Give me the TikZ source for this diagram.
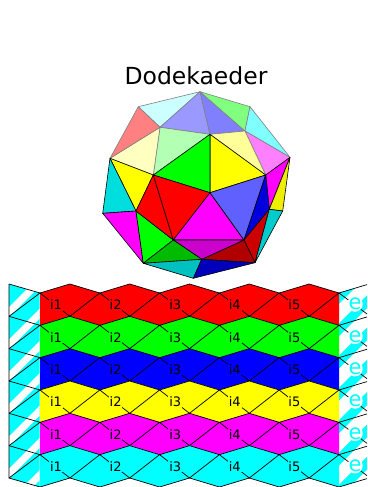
\documentclass[tikz,border=0pt]{standalone}
\usepackage{fontspec}
\setmainfont{DejaVu Sans}
\usepackage{tikz}
\definecolor{paleCyan}{HTML}{CCFFFF}
\definecolor{paleViolet}{HTML}{9999FF}
\definecolor{paleBlue}{HTML}{8080FF}
\definecolor{paleGreen}{HTML}{80FF80}
\definecolor{softCyan}{HTML}{80FFFF}
\definecolor{softMagenta}{HTML}{FF80FF}
\definecolor{paleYellow}{HTML}{FFFF99}
\definecolor{softGreen}{HTML}{B3FFB3}
\definecolor{softYellow}{HTML}{FFFFBF}
\definecolor{softRed}{HTML}{FF8080}
\definecolor{midCyan}{HTML}{00DDDD}
\definecolor{midBlue}{HTML}{6060FF}
\definecolor{midYellow}{HTML}{EEEE00}
\definecolor{deepBlue}{HTML}{0000DD}
\definecolor{deepRed}{HTML}{CC0000}
\definecolor{deepCyan}{HTML}{00CCCC}
\definecolor{darkRed}{HTML}{B00000}
\definecolor{deepMagenta}{HTML}{CC00CC}
\definecolor{deepGreen}{HTML}{00BB00}
\definecolor{darkCyan}{HTML}{00C0C0}
\definecolor{darkBlue}{HTML}{0000BB}
\definecolor{pureCyan}{HTML}{00FFFF}
\definecolor{pureMagenta}{HTML}{FF00FF}
\definecolor{pureYellow}{HTML}{FFFF00}
\definecolor{pureGreen}{HTML}{00FF00}
\definecolor{pureRed}{HTML}{FF0000}
\definecolor{pureBlue}{HTML}{0000FF}
\begin{document}
\begin{tikzpicture}[
    x=1pt, y=-1pt,
    face/.style={draw=black, line width=0.6pt, line join=round},
    lightface/.style={draw=gray, line width=0.6pt, line join=round},
    net/.style={draw=black, line width=0.7pt},
    lab/.style={font=\fontsize{13}{14}\selectfont, inner sep=0.8pt},
    elab/.style={font=\fontsize{21}{22}\selectfont, circle, inner sep=-0.8pt, text=pureCyan, fill=white},
  ]
    \useasboundingbox (0,0) rectangle (367,487);
    \node[font=\fontsize{23.5}{26}\selectfont, inner sep=0pt] (title) at (196,76) {Dodekaeder};
    % corners of the solid
    \foreach \n/\x/\y in {A/200/91.7, B/138.3/106.7, C/250/106.7, D/290/157.3, E/110/158.3,
      F/102.7/213.3, G/143.3/263.3, H/193.3/278.3, I/255/262.7, U/282.7/211, J/160/127.3,
      K/210/134.3, L/245/131, M/153.3/175, N/265.7/175, O/210/192.7, P/136/211, Q/173.3/240,
      R/244/240, S/269.3/209.3, T/201.7/259.3}{
      \coordinate (\n) at (\x,\y);}
    \foreach \a/\b/\c/\col in {B/A/J/paleCyan, J/A/K/paleViolet, A/L/K/paleBlue, A/C/L/paleGreen,
      C/D/L/softCyan, L/D/N/softMagenta, K/L/N/paleYellow, J/K/M/softGreen, E/J/M/softYellow,
      B/J/E/softRed}{
      \path[lightface, fill=\col] (\a) -- (\b) -- (\c) -- cycle;}
    \foreach \a/\b/\c/\col in {K/N/O/pureYellow, M/K/O/pureGreen, E/M/P/pureYellow, E/P/F/midCyan,
      F/P/G/pureMagenta, P/Q/G/pureGreen, M/Q/P/pureRed, M/O/Q/pureRed, O/R/Q/pureMagenta, O/N/R/midBlue,
      N/D/S/pureMagenta, D/U/S/midYellow, N/S/R/deepBlue, R/S/I/deepRed, S/U/I/deepCyan, R/I/T/darkRed,
      Q/R/T/deepMagenta, Q/T/G/deepGreen, G/T/H/darkCyan, T/I/H/darkBlue}{
      \path[face, fill=\col] (\a) -- (\b) -- (\c) -- cycle;}
    % striped flaps left and right
    \begin{scope}
      \clip (9,284) -- (39.5,293) -- (39.5,487) -- (9,478) -- cycle;
      \fill[pureCyan] (9,284) rectangle (39.5,487);
      \foreach \k in {-1,...,6}{
        \fill[white] (0,316+32.33*\k) -- (50,266+32.33*\k) -- (50,276+32.33*\k) -- (0,326+32.33*\k) -- cycle;}
    \end{scope}
    \begin{scope}
      \clip (339,293) -- (367,284.6) -- (367,478.6) -- (339,487) -- cycle;
      \fill[pureCyan] (339,284) rectangle (367,487);
      \foreach \k in {-1,...,6}{
        \fill[white] (330,313+32.33*\k) -- (380,263+32.33*\k) -- (380,282+32.33*\k) -- (330,332+32.33*\k) -- cycle;}
    \end{scope}
    % coloured bands
    \foreach \k/\col in {0/pureRed, 1/pureGreen, 2/pureBlue, 3/pureYellow, 4/pureMagenta, 5/pureCyan}{
      \fill[\col] (40,293+32.33*\k)
        \foreach \c in {0,...,4}{ -- (69.9+59.8*\c,284+32.33*\k) -- (99.8+59.8*\c,293+32.33*\k)}
        -- (339,325.33+32.33*\k)
        \foreach \c in {4,...,0}{ -- (69.9+59.8*\c,316.33+32.33*\k) -- (40+59.8*\c,325.33+32.33*\k)} -- cycle;
      \foreach \c in {0,...,4}{
        \draw[net] (40+59.8*\c,293+32.33*\k) -- (69.9+59.8*\c,284+32.33*\k) -- (99.8+59.8*\c,293+32.33*\k) -- (69.9+59.8*\c,316.33+32.33*\k) -- cycle;}
      \draw[net] (9,284+32.33*\k) -- (40,293+32.33*\k) -- (9,316.33+32.33*\k);
      \draw[net] (367,284.6+32.33*\k) -- (339,293+32.33*\k) -- (367,314+32.33*\k);
    }
    \draw[net] (9,284) -- (9,478) -- (40,487);
    \draw[net] (40,487) \foreach \c in {0,...,4}{ -- (69.9+59.8*\c,478.0) -- (99.8+59.8*\c,487)} -- (367,478.6);
    % labels
    \foreach \k/\col in {0/pureRed, 1/pureGreen, 2/pureBlue, 3/pureYellow, 4/pureMagenta, 5/pureCyan}{
      \foreach \c in {1,...,5}{
        \node[lab, fill=\col] (i\c r\k) at (56+59.6*\c-59.6,305+32.33*\k) {i\c};}
      \node[elab] (e\k) at (355,304+32.33*\k) {e};
    }
\end{tikzpicture}
\end{document}
